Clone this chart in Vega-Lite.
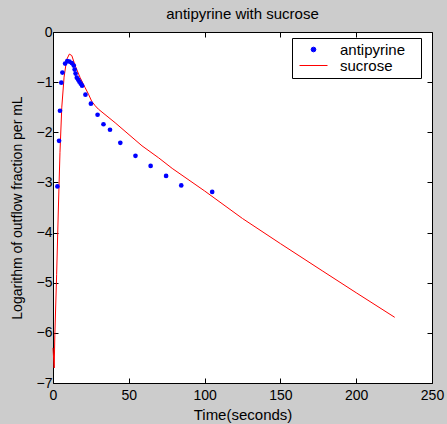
{
  "$schema": "https://vega.github.io/schema/vega-lite/v6.json",
  "width": 379,
  "height": 351,
  "autosize": {"type": "none"},
  "padding": {"left": 53, "top": 32, "right": 15, "bottom": 41},
  "background": "#cccccc",
  "config": {
    "font": "Liberation Sans",
    "view": {"fill": "white", "stroke": "black", "strokeWidth": 1},
    "axis": {
      "domain": false,
      "grid": false,
      "ticks": true,
      "tickColor": "black",
      "tickSize": -5,
      "labelFontSize": 14,
      "labelColor": "black",
      "labelFont": "Liberation Sans",
      "titleFont": "Liberation Sans",
      "titleFontSize": 14,
      "titleFontWeight": "normal",
      "titleColor": "black"
    }
  },
  "title": {
    "text": "antipyrine with sucrose",
    "fontSize": 15,
    "fontWeight": "normal",
    "font": "Liberation Sans",
    "color": "black",
    "offset": 3
  },
  "datasets": {
    "sucrose": [
      {"t": 0, "v": -6.3, "series": "sucrose"},
      {"t": 0.8, "v": -6.7, "series": "sucrose"},
      {"t": 1.2, "v": -6.06, "series": "sucrose"},
      {"t": 2.4, "v": -4.84, "series": "sucrose"},
      {"t": 3.5, "v": -3.57, "series": "sucrose"},
      {"t": 4.6, "v": -2.4, "series": "sucrose"},
      {"t": 5.8, "v": -1.5, "series": "sucrose"},
      {"t": 7.3, "v": -0.9, "series": "sucrose"},
      {"t": 9.0, "v": -0.55, "series": "sucrose"},
      {"t": 10.8, "v": -0.44, "series": "sucrose"},
      {"t": 12.4, "v": -0.47, "series": "sucrose"},
      {"t": 14.6, "v": -0.67, "series": "sucrose"},
      {"t": 17.9, "v": -0.91, "series": "sucrose"},
      {"t": 21.2, "v": -1.11, "series": "sucrose"},
      {"t": 23.4, "v": -1.24, "series": "sucrose"},
      {"t": 25.5, "v": -1.38, "series": "sucrose"},
      {"t": 27.8, "v": -1.47, "series": "sucrose"},
      {"t": 30, "v": -1.54, "series": "sucrose"},
      {"t": 41, "v": -1.81, "series": "sucrose"},
      {"t": 58.7, "v": -2.27, "series": "sucrose"},
      {"t": 69.7, "v": -2.51, "series": "sucrose"},
      {"t": 78.6, "v": -2.72, "series": "sucrose"},
      {"t": 100, "v": -3.17, "series": "sucrose"},
      {"t": 125, "v": -3.72, "series": "sucrose"},
      {"t": 150, "v": -4.22, "series": "sucrose"},
      {"t": 178, "v": -4.77, "series": "sucrose"},
      {"t": 200, "v": -5.2, "series": "sucrose"},
      {"t": 225.4, "v": -5.69, "series": "sucrose"}
    ],
    "antipyrine": [
      {"t": 2.9, "v": -3.08, "series": "antipyrine"},
      {"t": 4.0, "v": -2.17, "series": "antipyrine"},
      {"t": 4.6, "v": -1.57, "series": "antipyrine"},
      {"t": 5.5, "v": -1.01, "series": "antipyrine"},
      {"t": 6.2, "v": -0.81, "series": "antipyrine"},
      {"t": 8.0, "v": -0.63, "series": "antipyrine"},
      {"t": 9.4, "v": -0.58, "series": "antipyrine"},
      {"t": 10.8, "v": -0.59, "series": "antipyrine"},
      {"t": 12.4, "v": -0.62, "series": "antipyrine"},
      {"t": 13.7, "v": -0.67, "series": "antipyrine"},
      {"t": 14.3, "v": -0.75, "series": "antipyrine"},
      {"t": 14.9, "v": -0.83, "series": "antipyrine"},
      {"t": 15.7, "v": -0.91, "series": "antipyrine"},
      {"t": 16.6, "v": -0.95, "series": "antipyrine"},
      {"t": 17.4, "v": -0.99, "series": "antipyrine"},
      {"t": 18.3, "v": -1.03, "series": "antipyrine"},
      {"t": 19.2, "v": -1.07, "series": "antipyrine"},
      {"t": 21.4, "v": -1.25, "series": "antipyrine"},
      {"t": 25, "v": -1.43, "series": "antipyrine"},
      {"t": 29.4, "v": -1.65, "series": "antipyrine"},
      {"t": 33.3, "v": -1.84, "series": "antipyrine"},
      {"t": 37.6, "v": -1.95, "series": "antipyrine"},
      {"t": 44.4, "v": -2.21, "series": "antipyrine"},
      {"t": 54.4, "v": -2.47, "series": "antipyrine"},
      {"t": 64.4, "v": -2.67, "series": "antipyrine"},
      {"t": 74.6, "v": -2.87, "series": "antipyrine"},
      {"t": 84.6, "v": -3.06, "series": "antipyrine"},
      {"t": 105, "v": -3.19, "series": "antipyrine"}
    ]
  },
  "resolve": {"axis": {"x": "independent", "y": "independent"}},
  "layer": [
    {
      "data": {"name": "sucrose"},
      "mark": {"type": "line", "strokeWidth": 1, "interpolate": "linear"},
      "encoding": {
        "x": {
          "field": "t", "type": "quantitative",
          "scale": {"domain": [0, 250], "nice": false, "zero": false},
          "axis": {"values": [0, 50, 100, 150, 200, 250], "title": "Time(seconds)", "titleFontSize": 15, "labelPadding": 10, "titlePadding": 5, "labelFlush": false, "labelOverlap": false}
        },
        "y": {
          "field": "v", "type": "quantitative",
          "scale": {"domain": [-7, 0], "nice": false, "zero": false},
          "axis": {"values": [-7, -6, -5, -4, -3, -2, -1, 0], "title": "Logarithm of outflow fraction per mL", "labelPadding": 6, "titlePadding": 12, "labelFlush": false, "labelOverlap": false}
        },
        "color": {
          "field": "series", "type": "nominal",
          "scale": {"domain": ["antipyrine", "sucrose"], "range": ["#0000ff", "#ff0000"]},
          "legend": {
            "title": null,
            "orient": "none",
            "legendX": 239,
            "legendY": 6,
            "direction": "vertical",
            "strokeColor": "black",
            "fillColor": "white",
            "padding": 4,
            "symbolOffset": 10,
            "labelFontSize": 15,
            "labelColor": "black",
            "labelFont": "Liberation Sans",
            "labelOffset": 19,
            "labelExpr": "datum.label + '\u2800'",
            "symbolSize": 784,
            "rowPadding": 0,
            "encode": {
              "symbols": {
                "update": {
                  "shape": {"signal": "datum.value === 'sucrose' ? 'stroke' : 'circle'"},
                  "size": {"signal": "datum.value === 'sucrose' ? 784 : 22"},
                  "fill": {"signal": "datum.value === 'sucrose' ? 'transparent' : '#0000ff'"},
                  "stroke": {"signal": "datum.value === 'sucrose' ? '#ff0000' : '#0000ff'"},
                  "strokeWidth": {"value": 1},
                  "opacity": {"value": 1}
                }
              }
            }
          }
        }
      }
    },
    {
      "data": {"name": "antipyrine"},
      "mark": {"type": "circle", "size": 22, "opacity": 1},
      "encoding": {
        "x": {
          "field": "t", "type": "quantitative",
          "axis": {"values": [0, 50, 100, 150, 200, 250], "labels": false, "title": null, "orient": "top"}
        },
        "y": {
          "field": "v", "type": "quantitative",
          "axis": {"values": [-7, -6, -5, -4, -3, -2, -1, 0], "labels": false, "title": null, "orient": "right"}
        },
        "color": {"field": "series", "type": "nominal"}
      }
    }
  ]
}
